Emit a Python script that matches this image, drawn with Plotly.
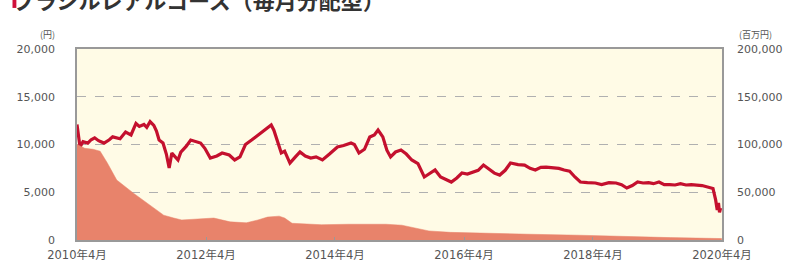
import plotly.graph_objects as go

# Price (基準価額, 円) – left axis
price_dates = ["2010-04-01","2010-04-10","2010-04-18","2010-05-05","2010-06-01","2010-06-20","2010-07-10","2010-08-01","2010-09-01","2010-10-01","2010-10-20","2010-12-01","2011-01-01","2011-02-01","2011-03-01","2011-03-20","2011-04-15","2011-05-01","2011-05-20","2011-06-10","2011-06-25","2011-07-10","2011-08-01","2011-08-20","2011-09-05","2011-09-20","2011-10-05","2011-10-25","2011-11-10","2011-12-10","2012-01-05","2012-02-01","2012-03-01","2012-03-25","2012-04-25","2012-06-01","2012-07-01","2012-08-10","2012-09-10","2012-10-10","2012-11-10","2012-12-15","2013-01-15","2013-02-10","2013-03-10","2013-04-05","2013-04-20","2013-05-15","2013-06-01","2013-06-20","2013-07-20","2013-08-20","2013-09-15","2013-10-15","2013-11-15","2013-12-15","2014-01-20","2014-03-01","2014-04-15","2014-05-20","2014-07-01","2014-07-20","2014-08-15","2014-09-15","2014-10-15","2014-11-10","2014-12-01","2014-12-28","2015-01-20","2015-02-10","2015-03-10","2015-04-10","2015-05-10","2015-06-10","2015-07-15","2015-08-20","2015-09-20","2015-10-20","2015-11-20","2015-12-20","2016-01-20","2016-02-20","2016-03-20","2016-04-20","2016-05-20","2016-06-20","2016-07-20","2016-08-20","2016-09-20","2016-10-20","2016-11-20","2016-12-20","2017-02-01","2017-03-10","2017-04-10","2017-05-10","2017-06-10","2017-07-10","2017-08-20","2017-09-20","2017-10-20","2017-11-20","2017-12-20","2018-01-20","2018-03-01","2018-04-15","2018-05-20","2018-07-01","2018-08-10","2018-09-10","2018-10-10","2018-11-10","2018-12-10","2019-01-10","2019-02-10","2019-03-10","2019-04-10","2019-05-10","2019-06-10","2019-07-10","2019-08-10","2019-09-10","2019-10-10","2019-11-10","2019-12-10","2020-01-10","2020-02-10","2020-02-25","2020-03-05","2020-03-12","2020-03-18","2020-03-24","2020-03-31"]
price_values = [12100,10600,9750,10300,10150,10500,10700,10400,10150,10500,10800,10600,11300,11000,12200,11900,12100,11800,12400,12000,11400,10470,10150,9000,7540,9100,8800,8380,9200,9800,10470,10300,10150,9600,8590,8800,9110,8900,8380,8700,10000,10470,10900,11200,11600,12040,11500,10150,9110,9300,8060,8700,9215,8800,8590,8700,8380,9000,9740,9900,10150,10000,9110,9500,10780,11000,11520,10800,9400,8700,9215,9420,9000,8380,8000,6600,7000,7330,6600,6300,6070,6500,7015,6900,7120,7300,7850,7400,7000,6800,7300,8060,7900,7850,7500,7330,7600,7640,7550,7500,7330,7200,6600,6070,6000,5970,5800,6000,5970,5800,5440,5700,6070,5970,6000,5900,6070,5800,5800,5760,5900,5760,5800,5760,5700,5550,5400,4200,3140,3870,2900,3350]

# Net assets (純資産総額, 百万円) – right axis
asset_dates = ["2010-04-01","2010-05-15","2010-07-01","2010-08-10","2010-09-20","2010-11-12","2011-02-15","2011-05-05","2011-08-05","2011-10-01","2011-11-15","2012-02-15","2012-05-15","2012-08-15","2012-11-15","2013-01-20","2013-03-15","2013-05-20","2013-06-20","2013-08-01","2014-01-15","2014-06-15","2015-01-15","2015-04-15","2015-06-15","2015-09-15","2016-01-15","2016-07-15","2017-04-15","2018-01-15","2018-10-15","2019-06-15","2020-03-31"]
asset_values = [100000,96000,95000,93000,80600,62800,49000,38700,26000,23000,21000,22000,23000,19000,18000,21000,24000,25000,23000,17500,16000,16500,16500,15500,13000,9500,8000,7000,6000,5000,3500,2500,1500]

x_tickvals = ["2010-04-01","2012-04-01","2014-04-01","2016-04-01","2018-04-01","2020-04-01"]
x_ticktext = ["2010年4月","2012年4月","2014年4月","2016年4月","2018年4月","2020年4月"]
y1_ticks = [0, 5000, 10000, 15000, 20000]
y2_ticks = [0, 50000, 100000, 150000, 200000]

title_text = "ブラジルレアルコース（毎月分配型）"

font = "DejaVu Sans, Noto Sans CJK JP"
cjk = "Noto Sans CJK JP"
grey = "#555555"

fig = go.Figure()
fig.add_trace(go.Scatter(x=asset_dates, y=asset_values, yaxis="y2", mode="lines",
                         line=dict(color="#e8836b", width=0.5), fill="tozeroy",
                         fillcolor="#e8836b", hoverinfo="skip", showlegend=False))
fig.add_trace(go.Scatter(x=price_dates, y=price_values, mode="lines",
                         line=dict(color="#c4102e", width=3.2), showlegend=False))

fig.update_layout(
    width=791, height=267,
    margin=dict(l=77, r=69, t=49, b=27),
    paper_bgcolor="white", plot_bgcolor="#fffbe6",
    font=dict(family=font, size=11, color=grey),
    xaxis=dict(type="date", range=["2010-04-01", "2020-04-01"], automargin=False,
               tickvals=x_tickvals, ticktext=x_ticktext, showgrid=False,
               showline=True, linecolor="#999999", linewidth=1.5, mirror=True,
               ticks="inside", ticklen=3, tickcolor="#999999",
               ticklabelstandoff=3,
               tickfont=dict(size=11.5, color=grey, family=font), zeroline=False),
    yaxis=dict(range=[0, 20000], tickvals=y1_ticks, tickformat=",d", automargin=False,
               showgrid=True, gridcolor="#b0b0b0", griddash="dash", gridwidth=1,
               showline=True, linecolor="#999999", linewidth=1.5, mirror=True,
               zeroline=False, tickfont=dict(size=11, color=grey, family=font), ticks="",
               ticklabelstandoff=18),
    yaxis2=dict(range=[0, 200000], tickvals=y2_ticks, tickformat=",d", automargin=False,
                overlaying="y", side="right", showgrid=False, zeroline=False,
                tickfont=dict(size=11, color=grey, family=font), ticks="",
                ticklabelstandoff=14),
)

fig.add_annotation(text="(円)", xref="paper", yref="paper", x=-0.031, y=1.03,
                   xanchor="right", yanchor="bottom", showarrow=False,
                   font=dict(size=9, color=grey, family=cjk))
fig.add_annotation(text="(百万円)", xref="paper", yref="paper", x=1.023, y=1.03,
                   xanchor="left", yanchor="bottom", showarrow=False,
                   font=dict(size=9, color=grey, family=cjk))
fig.add_annotation(text="<b>" + title_text + "</b>", xref="paper", yref="paper",
                   x=-0.103, y=1.262, xanchor="left", yanchor="middle", showarrow=False,
                   font=dict(size=22, color="#333333", family=cjk))
fig.add_shape(type="rect", xref="paper", yref="paper", x0=-0.1, x1=-0.094,
              y0=1.215, y1=1.3, fillcolor="#d0103a", line=dict(width=0))

fig.write_html("out.html", config={"displayModeBar": False},
               post_script="document.body.style.margin='0';document.body.style.overflow='hidden';")
